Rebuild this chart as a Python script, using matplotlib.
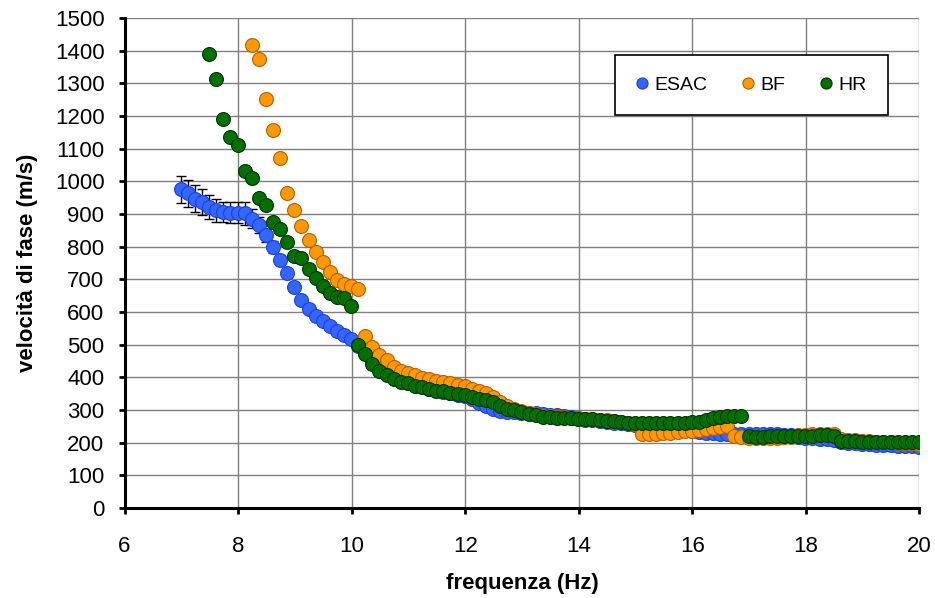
import numpy as np
import matplotlib
matplotlib.use("Agg")
import matplotlib.pyplot as plt

plt.rcParams['font.family'] = ['Liberation Sans', 'DejaVu Sans']

# frequency grid (Hz) shared by the three methods
freq = [6.99, 7.115, 7.24, 7.365, 7.49, 7.615, 7.74, 7.865, 7.99, 8.115,
        8.24, 8.365, 8.49, 8.615, 8.74, 8.865, 8.99, 9.115, 9.24, 9.365,
        9.49, 9.615, 9.74, 9.865, 9.99, 10.115, 10.24, 10.365, 10.49, 10.615,
        10.74, 10.865, 10.99, 11.115, 11.24, 11.365, 11.49, 11.615, 11.74, 11.865,
        11.99, 12.115, 12.24, 12.365, 12.49, 12.615, 12.74, 12.865, 12.99, 13.115,
        13.24, 13.365, 13.49, 13.615, 13.74, 13.865, 13.99, 14.115, 14.24, 14.365,
        14.49, 14.615, 14.74, 14.865, 14.99, 15.115, 15.24, 15.365, 15.49, 15.615,
        15.74, 15.865, 15.99, 16.115, 16.24, 16.365, 16.49, 16.615, 16.74, 16.865,
        16.99, 17.115, 17.24, 17.365, 17.49, 17.615, 17.74, 17.865, 17.99, 18.115,
        18.24, 18.365, 18.49, 18.615, 18.74, 18.865, 18.99, 19.115, 19.24, 19.365,
        19.49, 19.615, 19.74, 19.865, 19.99]

# ESAC: whole grid
esac = [976, 963, 947, 937, 922, 911, 906, 904, 904, 902,
        886, 866, 835, 798, 758, 718, 677, 638, 608, 587,
        572, 557, 543, 529, 518, 497, 476, 450, 428, 412,
        400, 390, 384, 375, 372, 365, 360, 356, 351, 346,
        342, 333, 322, 312, 303, 297, 294, 293, 292, 291,
        290, 288, 286, 284, 281, 278, 274, 270, 268, 266,
        263, 261, 259, 256, 253, 251, 249, 247, 245, 243,
        241, 239, 236, 233, 230, 229, 228, 227, 226, 226,
        227, 228, 227, 226, 225, 224, 222, 218, 215, 213,
        211, 210, 208, 203, 200, 198, 196, 195, 194, 193,
        192, 191, 190, 189, 187]
# error bars on the first ESAC points
esac_err = [41, 42, 41, 39, 37, 35, 31, 33, 33, 35, 29, 24, 20, 18, 15, 12]

# BF starts at grid index 10
bf_start = 10
bf = [1418, 1373, 1253, 1156, 1072, 965, 911, 864, 820, 785,
      752, 722, 698, 687, 679, 670, 525, 493, 468, 453,
      433, 420, 414, 406, 399, 394, 390, 387, 382, 376,
      373, 365, 359, 352, 340, 325, 312, 304, 297, 291,
      287, 283, 281, 279, 278, 277, 275, 273, 272, 270,
      268, 266, 264, 261, 256, 226, 227, 228, 229, 231,
      233, 235, 237, 240, 243, 246, 249, 252, 220, 218,
      215, 214, 214, 214, 215, 216, 218, 222, 224, 225,
      226, 226, 225, 210, 208, 207, 205, 204, 203, 202,
      201, 200, 199, 198, 197]

# HR starts at grid index 4
hr_start = 4
hr = [1390, 1312, 1192, 1137, 1111, 1032,
      1010, 948, 927, 874, 853, 813, 772, 765, 733, 705,
      680, 657, 647, 642, 619, 499, 471, 442, 420, 407,
      396, 387, 382, 372, 371, 363, 359, 357, 353, 349,
      346, 340, 335, 331, 324, 313, 304, 300, 293, 288,
      284, 280, 279, 276, 276, 275, 273, 272, 272, 269,
      266, 265, 263, 261, 259, 259, 259, 259, 259, 259,
      261, 261, 262, 263, 269, 276, 280, 283, 283, 282,
      220, 218, 218, 220, 219, 219, 219, 220, 220, 221,
      222, 222, 220, 205, 204, 204, 203, 203, 203, 202,
      202, 202, 201, 201, 201]

fig = plt.figure(figsize=(9.35, 5.98), dpi=100)
ax = fig.add_axes([0.1332, 0.1505, 0.8502, 0.8195])

n_err = len(esac_err)
ax.errorbar(freq[:n_err], esac[:n_err], yerr=esac_err, fmt='none',
            ecolor='black', elinewidth=1, capsize=3.5, capthick=1, zorder=2)

ax.plot(freq, esac, 'o', ms=10, mfc='#3366FF', mec='#1f3fd8', mew=0.8,
        label='ESAC', zorder=3)
ax.plot(freq[bf_start:], bf, 'o', ms=10, mfc='#FF9900', mec='#b85c00', mew=0.8,
        label='BF', zorder=4)
ax.plot(freq[hr_start:], hr, 'o', ms=10, mfc='#007000', mec='#003300', mew=0.8,
        label='HR', zorder=5)

ax.set_xlim(6, 20)
ax.set_ylim(0, 1500)
ax.set_xticks(np.arange(6, 21, 2))
ax.set_yticks(np.arange(0, 1501, 100))
ax.grid(True, color='#7f7f7f', linewidth=1)
ax.set_axisbelow(True)

for s in ['top', 'right']:
    ax.spines[s].set_visible(False)
for s in ['left', 'bottom']:
    ax.spines[s].set_linewidth(2.2)
    ax.spines[s].set_zorder(6)

ax.tick_params(axis='both', direction='out', length=4.5, width=2, labelsize=16)
ax.tick_params(axis='x', pad=16)
ax.tick_params(axis='y', pad=10)

ax.set_xlabel('frequenza (Hz)', fontsize=16, fontweight='bold', labelpad=11)
ax.set_ylabel('velocità di fase (m/s)', fontsize=16, fontweight='bold', labelpad=12)

leg = ax.legend(loc='upper left', bbox_to_anchor=(0.617, 0.925, 0.343, 0.0),
                mode='expand', ncol=3, fontsize=14, markerscale=0.8,
                handlelength=0.6, handletextpad=0.3, borderpad=1.1,
                columnspacing=1.5, borderaxespad=0, fancybox=False,
                framealpha=1, edgecolor='black')
leg.get_frame().set_linewidth(1.2)

fig.savefig('out.png', dpi=100)
